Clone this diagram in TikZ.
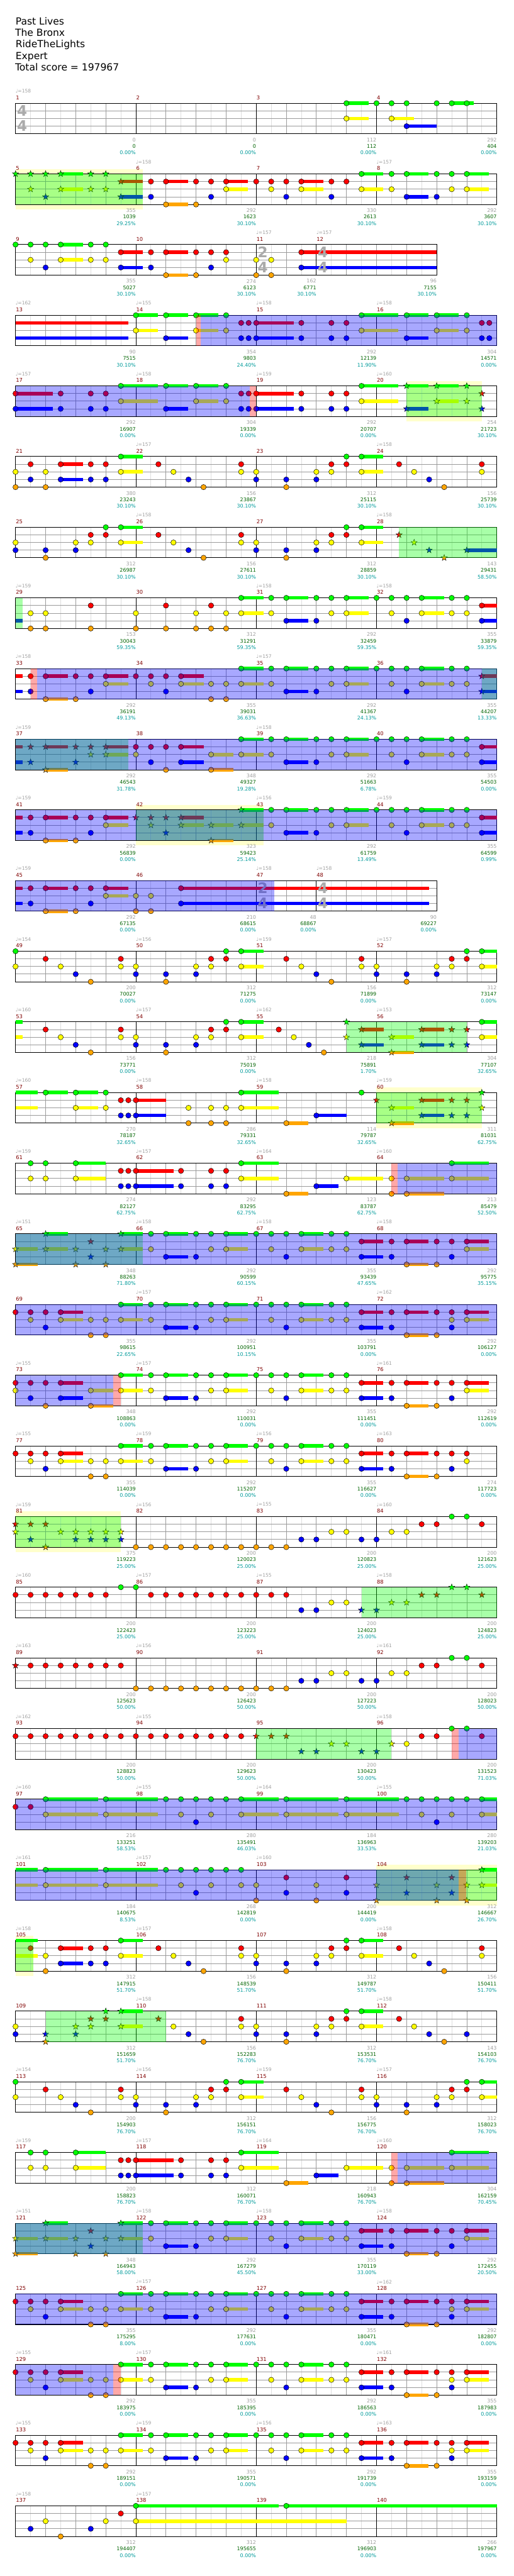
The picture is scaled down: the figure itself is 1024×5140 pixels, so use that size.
\documentclass[tikz,border=0pt]{standalone}
\usepackage{fontspec}
\setmainfont{DejaVu Sans}
\definecolor{L0}{RGB}{0,255,0}
\definecolor{L1}{RGB}{255,0,0}
\definecolor{L2}{RGB}{255,255,0}
\definecolor{L3}{RGB}{0,0,255}
\definecolor{L4}{RGB}{255,165,0}
\definecolor{spy}{RGB}{255,255,204}
\definecolor{tgrey}{RGB}{160,160,160}
\definecolor{mred}{RGB}{128,0,0}
\definecolor{sgreen}{RGB}{0,100,0}
\definecolor{steal}{RGB}{0,155,155}
\definecolor{bgr}{RGB}{155,155,155}
\definecolor{hgr}{RGB}{222,222,222}
\definecolor{tsg}{RGB}{170,170,170}
\tikzset{
 hgrid/.style={draw=hgr, line width=1pt},
 bgrid/.style={draw=bgr, line width=1pt},
 lgrid/.style={draw=bgr, line width=1.2pt},
 mline/.style={draw=black, line width=1pt},
 border/.style={draw=black, line width=1.3pt},
 note/.style={draw=black, line width=0.6pt},
 tempo/.style={anchor=west, inner sep=0pt, text=tgrey, font=\fontsize{9.5}{11}\selectfont},
 meas/.style={anchor=west, inner sep=0pt, text=mred, font=\fontsize{10.5}{12}\selectfont},
 sca/.style={anchor=east, inner sep=0pt, text=tgrey, font=\fontsize{10}{12}\selectfont},
 scb/.style={sca, text=sgreen},
 scc/.style={sca, text=steal},
 tsig/.style={inner sep=0pt, text=tsg, font=\fontsize{29}{30}\selectfont\bfseries},
 title/.style={anchor=base west, inner sep=0pt, font=\fontsize{19.5}{22}\selectfont},
 spg/.style={fill=L0, fill opacity=0.34},
 act/.style={fill=L3, fill opacity=0.34},
 lee/.style={fill=L1, fill opacity=0.34},
}
\newcommand\setT[1]{\pgfmathsetmacro\RT{206+141*(#1-1)}}
\newcommand\Ysp[2]{\fill[spy] ({31+60*#1},{\RT-10}) rectangle ({31+60*#2},{\RT+71});}
\newcommand\Gov[2]{\fill[spg] ({31+60*#1},{\RT}) rectangle ({31+60*#2},{\RT+61});}
\newcommand\Act[2]{\fill[act] ({31+60*#1},{\RT}) rectangle ({31+60*#2},{\RT+61});}
\newcommand\Lee[2]{\fill[lee] ({31+60*#1},{\RT}) rectangle ({31+60*#2},{\RT+61});}
\newcommand\Sus[1]{\foreach \xs/\xe/\nl in {#1}{\fill[fill=L\nl] ({31+60*\xs},{\RT+15.25*\nl-3.5}) rectangle ({31+60*\xe},{\RT+15.25*\nl+3.5});}}
\newcommand\Notes[1]{\foreach \xb/\nl in {#1}{\filldraw[note, fill=L\nl] ({31+60*\xb},{\RT+15.25*\nl}) circle (5.3pt);}}
\newcommand\Stars[1]{\foreach \xb/\nl in {#1}{\filldraw[note, line width=0.5pt, fill=L\nl, shift={({31+60*\xb},{\RT+15.25*\nl})}] (0,-6.5) -- (1.53,-2.1) -- (6.18,-2.01) -- (2.47,0.8) -- (3.82,5.26) -- (0,2.6) -- (-3.82,5.26) -- (-2.47,0.8) -- (-6.18,-2.01) -- (-1.53,-2.1) -- cycle;}}
\newcommand\Staff[2]{%
 \pgfmathtruncatemacro\nh{2*#1-1}%
 \foreach \gi in {1,...,\nh}{\ifodd\gi\relax \draw[hgrid] ({31+30*\gi},{\RT}) -- ++(0,61); \else \draw[bgrid] ({31+30*\gi},{\RT}) -- ++(0,61); \fi}%
 \foreach \gk in {1,2,3}{\draw[lgrid] (31,{\RT+15.25*\gk}) -- ({31+60*#1},{\RT+15.25*\gk});}%
 \foreach \gm in {#2}{\draw[mline] ({31+60*\gm},{\RT}) -- ++(0,61);}%
 \draw[border] (31,{\RT}) rectangle ({31+60*#1},{\RT+61});}
\newcommand\TS[3]{\node[tsig] at ({44+60*#1},{\RT+15}) {#2}; \node[tsig] at ({44+60*#1},{\RT+45}) {#3};}
\newcommand\Tmp[1]{\foreach \xb/\tv in {#1}{\node[tempo] at ({31+60*\xb},{\RT-24}) {♩=\tv};}}
\newcommand\Msr[1]{\foreach \xb/\mv in {#1}{\node[meas] at ({31.5+60*\xb},{\RT-11}) {\mv};}}
\newcommand\Scr[1]{\foreach \xb/\pa/\pb/\pc in {#1}{\node[sca] at ({31+60*\xb},{\RT+73}) {\pa}; \node[scb] at ({31+60*\xb},{\RT+86}) {\pb}; \node[scc] at ({31+60*\xb},{\RT+99}) {\pc\%};}}
% repeated note patterns
\newcommand\PatVerseA{%
\Sus{7.5/8.24/0, 15.5/16/0, 7.5/8.24/2, 15.5/16/2}%
\Notes{0/0, 7/0, 7.5/0, 15/0, 15.5/0, 1/1, 3.5/1, 6.5/1, 7/1, 9/1, 11.5/1, 14.5/1, 15/1, 0/2, 1.5/2, 3.5/2, 4/2, 6/2, 6.5/2, 7.5/2, 9.5/2, 11.5/2, 12/2, 14/2, 14.5/2, 15.5/2, 2/3, 4/3, 5/3, 6/3, 10/3, 12/3, 13/3, 14/3, 2.5/4, 5/4, 10.5/4, 13/4}}
\newcommand\PatBuild{%
\Sus{2/3/0, 7.5/8.74/0, 14.5/15.73/0, 4/5.25/1, 2/3/2, 7.5/8.74/2, 11/12.23/2, 13/14.24/2, 14.5/15.73/2, 4/5.25/3, 10/10.74/3, 9/9.74/4, 13/14.24/4}%
\Notes{.5/0, 1/0, 2/0, 7.5/0, 14.5/0, 3.5/1, 3.75/1, 4/1, 5.5/1, 6.5/1, 7/1, .5/2, 1/2, 2/2, 7.5/2, 11/2, 12.5/2, 13/2, 14.5/2, 3.5/3, 3.75/3, 4/3, 5.5/3, 6.5/3, 7/3, 10/3, 9/4, 12.5/4, 13/4}}
\newcommand\PatChorusG{%
\Sus{3.5/4.23/0, 5/5.73/0, 7/7.73/0, 9.5/10.23/0, 1.5/2.24/1, 11.5/12.23/1, 13/13.73/1, 15/15.73/1, 1.5/2.24/2, 3.5/4.23/2, 7/7.73/2, 9.5/10.23/2, 15/15.73/2, 5/5.73/3, 11.5/12.23/3, 13/13.73/4}%
\Notes{3.5/0, 4.5/0, 5/0, 6/0, 6.5/0, 7/0, 8/0, 8.5/0, 9/0, 9.5/0, 10.5/0, 11/0, 0/1, .5/1, 1/1, 1.5/1, 11.5/1, 12.5/1, 13/1, 14/1, 14.5/1, 15/1, .5/2, 1.5/2, 2.5/2, 3/2, 3.5/2, 4.5/2, 6.5/2, 7/2, 8.5/2, 9.5/2, 10.5/2, 11/2, 14.5/2, 15/2, 1/3, 5/3, 6/3, 9/3, 11.5/3, 12.5/3, 14.5/3, 2.5/4, 3/4, 13/4, 14/4}}
\begin{document}
\begin{tikzpicture}[x=1pt,y=-1pt]
\useasboundingbox (0,0) rectangle (1024,5140);
\fill[white] (0,0) rectangle (1024,5140);
\node[title] (t1) at (31,49) {Past Lives};
\node[title] (t2) at (30,72) {The Bronx};
\node[title] (t3) at (31,95) {RideTheLights};
\node[title] (t4) at (31,118) {Expert};
\node[title] (t5) at (30,141) {Total score = 197967};
% row 1
\setT{1}\Staff{16}{4,8,12}\TS{0}{4}{4}
\Sus{11/11.74/0, 11/11.74/2, 12.5/13.24/2, 13/14/3, 14.5/15.24/0}
\Notes{11/0, 11/2, 12/0, 12.5/0, 12.5/2, 13/0, 13/3, 14/0, 14.5/0, 15/0}
\Tmp{0/158}\Msr{0/1,4/2,8/3,12/4}\Scr{4/0/0/0.00,8/0/0/0.00,12/112/112/0.00,16/292/404/0.00}
% row 2
\setT{2}\Ysp{0}{4.24}\Staff{16}{4,8,12}
\Sus{1.5/2.24/0, 11.5/12.23/0, 13/13.73/0, 15/15.73/0, 3.5/4.23/1, 5/5.73/1, 7/7.73/1, 9.5/10.23/1, 1.5/2.24/2, 7/7.73/2, 9.5/10.23/2, 11.5/12.23/2, 15/15.73/2, 3.5/4.23/3, 13/13.73/3, 5/5.73/4}
\Stars{0/0, .5/0, 1/0, 1.5/0, 2.5/0, 3/0, 3.5/1, .5/2, 1.5/2, 2.5/2, 3/2, 1/3, 3.5/3}
\Notes{11.5/0, 12.5/0, 13/0, 14/0, 14.5/0, 15/0, 4.5/1, 5/1, 6/1, 6.5/1, 7/1, 8/1, 8.5/1, 9/1, 9.5/1, 10.5/1, 11/1, 7/2, 8.5/2, 9.5/2, 11.5/2, 12.5/2, 14.5/2, 15/2, 4.5/3, 6.5/3, 9/3, 10.5/3, 13/3, 14/3, 5/4, 6/4}
\Gov{0}{4.24}
\Tmp{4/158,12/157}\Msr{0/5,4/6,8/7,12/8}
\Scr{4/355/1039/29.25, 8/292/1623/30.10, 12/330/2613/30.10, 16/292/3607/30.10}
% row 3
\setT{3}\Staff{14}{4,8,10}
\Sus{1.5/2.24/0, 3.5/4.23/1, 5/5.73/1, 9.5/14/1, 1.5/2.24/2, 3.5/4.23/3, 9.5/14/3, 5/5.73/4}
\Notes{0/0, .5/0, 1/0, 1.5/0, 2.5/0, 3/0, 3.5/1, 4.5/1, 5/1, 6/1, 6.5/1, 7/1, 9.5/1, .5/2, 1.5/2, 2.5/2, 3/2, 7/2, 8/2, 8.5/2, 1/3, 3.5/3, 4.5/3, 6.5/3, 9.5/3, 5/4, 6/4, 8/4, 8.5/4}
\TS{8}{2}{4}\TS{10}{4}{4}
\Tmp{8/157,10/157}\Msr{0/9,4/10,8/11,10/12}
\Scr{4/355/5027/30.10, 8/274/6123/30.10, 10/162/6771/30.10, 14/96/7155/30.10}
% row 4
\setT{4}\Staff{16}{4,8,12}
\Sus{0/3.74/1, 0/3.74/3, 4/4.74/0, 5/5.73/0, 6/6.75/0, 11.5/12.73/0, 13/13.73/0, 14/14.74/0, 8/9.24/1, 4/4.74/2, 6/6.75/2, 11.5/12.73/2, 14/14.74/2, 5/5.73/3, 8/9.24/3, 13/13.73/3}
\Notes{4/0, 5/0, 6/0, 7/0, 11.5/0, 13/0, 14/0, 15/0, 7.5/1, 7.75/1, 8/1, 9.5/1, 10.5/1, 11/1, 15.5/1, 15.75/1, 4/2, 6/2, 7/2, 11.5/2, 14/2, 15/2, 5/3, 7.5/3, 7.75/3, 8/3, 9.5/3, 10.5/3, 11/3, 13/3, 15.5/3, 15.75/3}
\Act{6.15}{16}\Lee{6}{6.15}
\Tmp{0/162,4/155,8/158,12/158}\Msr{0/13,4/14,8/15,12/16}
\Scr{4/90/7515/30.10, 8/354/9803/24.40, 12/292/12139/11.90, 16/304/14571/0.00}
% row 5
\setT{5}\Ysp{13}{15.5}\Staff{16}{4,8,12}
\Sus{3.5/4.74/0, 5/5.73/0, 6/6.75/0, 11.5/12.73/0, 13/13.73/0, 14/14.74/0, 0/1.24/1, 8/9.24/1, 3.5/4.74/2, 6/6.75/2, 11.5/12.73/2, 14/14.74/2, 0/1.24/3, 5/5.73/3, 8/9.24/3, 13/13.73/3}
\Notes{3.5/0, 5/0, 6/0, 7/0, 11.5/0, 0/1, 1.5/1, 2.5/1, 3/1, 7.5/1, 7.75/1, 8/1, 9.5/1, 10.5/1, 11/1, 3.5/2, 6/2, 7/2, 11.5/2, 0/3, 1.5/3, 2.5/3, 3/3, 5/3, 7.5/3, 7.75/3, 8/3, 9.5/3, 10.5/3, 11/3}
\Stars{13/0, 14/0, 15/0, 15.5/1, 14/2, 15/2, 13/3, 15.5/3}
\Gov{13}{15.5}\Act{0}{7.78}\Lee{7.78}{8}
\Tmp{0/157,4/158,8/159,12/160}\Msr{0/17,4/18,8/19,12/20}
\Scr{4/292/16907/0.00, 8/304/19339/0.00, 12/292/20707/0.00, 16/254/21723/30.10}
% row 6
\setT{6}\Staff{16}{4,8,12}
\Sus{3.5/4.23/0, 11.5/12.23/0, 1.5/2.24/1, 3.5/4.23/2, 11.5/12.23/2, 1.5/2.24/3}
\Notes{3.5/0, 11/0, 11.5/0, .5/1, 1.5/1, 2.5/1, 3/1, 4.75/1, 7.5/1, 10.5/1, 11/1, 12.75/1, 15.5/1, 0/2, 1/2, 3.5/2, 5.25/2, 7.5/2, 8/2, 10/2, 10.5/2, 11.5/2, 13.25/2, 15.5/2, .5/3, 1.5/3, 2.5/3, 3/3, 5.75/3, 8/3, 9/3, 10/3, 13.75/3, 0/4, 1/4, 6.25/4, 9/4, 14.25/4}
\Tmp{4/157,12/158}\Msr{0/21,4/22,8/23,12/24}
\Scr{4/380/23243/30.10, 8/156/23867/30.10, 12/312/25115/30.10, 16/156/25739/30.10}
% row 7
\setT{7}\Staff{16}{4,8,12}
\Sus{3.5/4.23/0, 11.5/12.23/0, 3.5/4.23/2, 11.5/12.23/2, 15/16/3}
\Notes{3/0, 3.5/0, 11/0, 11.5/0, 2.5/1, 3/1, 4.75/1, 7.5/1, 10.5/1, 11/1, 0/2, 2/2, 2.5/2, 3.5/2, 5.25/2, 7.5/2, 8/2, 10/2, 10.5/2, 11.5/2, 0/3, 1/3, 2/3, 5.75/3, 8/3, 9/3, 10/3, 1/4, 6.25/4, 9/4}
\Stars{12.75/1, 13.25/2, 13.75/3, 15/3, 14.25/4}
\Gov{12.74}{16}
\Tmp{4/158,12/158}\Msr{0/25,4/26,8/27,12/28}
\Scr{4/312/26987/30.10, 8/156/27611/30.10, 12/312/28859/30.10, 16/143/29431/58.50}
% row 8
\setT{8}\Staff{16}{4,8,12}
\Sus{0/0.24/3, 7.5/8.24/0, 9/9.74/0, 11/11.74/0, 13.5/14.24/0, 15.5/16/1, 7.5/8.24/2, 11/11.74/2, 13.5/14.24/2, 9/9.74/3, 15.5/16/3}
\Notes{7.5/0, 8.5/0, 9/0, 10/0, 10.5/0, 11/0, 12/0, 12.5/0, 13/0, 13.5/0, 14.5/0, 15/0, 2.5/1, 5/1, 6.5/1, 15.5/1, .5/2, 1/2, 4/2, 6/2, 7/2, 7.5/2, 8.5/2, 10.5/2, 11/2, 12.5/2, 13.5/2, 14.5/2, 15/2, 9/3, 10/3, 13/3, 15.5/3, .5/4, 1/4, 2.5/4, 4/4, 5/4, 6/4, 6.5/4, 7/4}
\Gov{0}{0.24}
\Tmp{0/159,8/158,12/158}\Msr{0/29,4/30,8/31,12/32}
\Scr{4/153/30043/59.35, 8/312/31291/59.35, 12/292/32459/59.35, 16/355/33879/59.35}
% row 9
\setT{9}\Staff{16}{4,8,12}
\Sus{0/0.24/1, 0/0.24/3, 7.5/8.24/0, 9/9.74/0, 11/11.74/0, 13.5/14.24/0, 1/1.74/1, 3/3.74/1, 5.5/6.25/1, 15.5/16/1, 3/3.74/2, 5.5/6.25/2, 7.5/8.24/2, 11/11.74/2, 13.5/14.24/2, 9/9.74/3, 15.5/16/3, 1/1.74/4}
\Notes{7.5/0, 8.5/0, 9/0, 10/0, 10.5/0, 11/0, 12/0, 12.5/0, 13/0, 13.5/0, 14.5/0, 15/0, .5/1, 1/1, 2/1, 2.5/1, 3/1, 4/1, 4.5/1, 5/1, 5.5/1, 3/2, 4.5/2, 5.5/2, 6.5/2, 7/2, 7.5/2, 8.5/2, 10.5/2, 11/2, 12.5/2, 13.5/2, 14.5/2, 15/2, .5/3, 2.5/3, 5/3, 9/3, 10/3, 13/3, 1/4, 2/4, 6.5/4, 7/4}
\Stars{15.5/1, 15.5/3}
\Gov{15.5}{16}\Act{0.71}{16}\Lee{0.5}{0.71}
\Tmp{0/158,8/157}\Msr{0/33,4/34,8/35,12/36}
\Scr{4/292/36191/49.13, 8/355/39031/36.63, 12/292/41367/24.13, 16/355/44207/13.33}
% row 10
\setT{10}\Staff{16}{4,8,12}
\Sus{0/0.24/1, 0/0.24/3, 7.5/8.24/0, 9/9.74/0, 11/11.74/0, 13.5/14.24/0, 1/1.74/1, 3/3.74/1, 5.5/6.25/1, 15.5/16/1, 3/3.74/2, 6.5/7.24/2, 7.5/8.24/2, 11/11.74/2, 13.5/14.24/2, 5.5/6.25/3, 9/9.74/3, 15.5/16/3, 1/1.74/4, 6.5/7.24/4}
\Stars{.5/1, 1/1, 2/1, 2.5/1, 3/1, 2.5/2, 3/2, .5/3, 2/3, 1/4}
\Notes{7.5/0, 8.5/0, 9/0, 10/0, 10.5/0, 11/0, 12/0, 12.5/0, 13/0, 13.5/0, 14.5/0, 15/0, 4/1, 4.5/1, 5/1, 5.5/1, 15.5/1, 4/2, 6.5/2, 7.5/2, 8.5/2, 10.5/2, 11/2, 12.5/2, 13.5/2, 14.5/2, 15/2, 4.5/3, 5.5/3, 9/3, 10/3, 13/3, 15.5/3, 5/4, 6.5/4}
\Gov{0}{3.74}\Act{0}{16}
\Tmp{0/159,8/158}\Msr{0/37,4/38,8/39,12/40}
\Scr{4/292/46543/31.78, 8/348/49327/19.28, 12/292/51663/6.78, 16/355/54503/0.00}
% row 11
\setT{11}\Ysp{4}{8.24}\Staff{16}{4,8,12}
\Sus{0/0.24/1, 0/0.24/3, 7.5/8.24/0, 9/9.74/0, 11/11.74/0, 13.5/14.24/0, 1/1.74/1, 3/3.74/1, 5.5/6.25/1, 15.5/16/1, 3/3.74/2, 5.5/6.25/2, 6.5/7.24/2, 7.5/8.24/2, 11/11.74/2, 13.5/14.24/2, 9/9.74/3, 15.5/16/3, 1/1.74/4, 6.5/7.24/4}
\Stars{7.5/0, 4/1, 4.5/1, 5/1, 5.5/1, 4.5/2, 5.5/2, 6.5/2, 7.5/2, 5/3, 6.5/4}
\Notes{8.5/0, 9/0, 10/0, 10.5/0, 11/0, 12/0, 12.5/0, 13/0, 13.5/0, 14.5/0, 15/0, .5/1, 1/1, 2/1, 2.5/1, 3/1, 15.5/1, 3/2, 8.5/2, 10.5/2, 11/2, 12.5/2, 13.5/2, 14.5/2, 15/2, .5/3, 2.5/3, 9/3, 10/3, 13/3, 15.5/3, 1/4, 2/4}
\Gov{4}{8.24}\Act{0}{16}
\Tmp{0/159,8/156,12/159}\Msr{0/41,4/42,8/43,12/44}
\Scr{4/292/56839/0.00, 8/323/59423/25.14, 12/292/61759/13.49, 16/355/64599/0.99}
% row 12
\setT{12}\Staff{14}{4,8,10}
\Sus{0/0.24/1, 0/0.24/3, 1/1.74/1, 3/3.74/1, 5.5/13.74/1, 3/3.74/2, 5.5/13.74/3, 1/1.74/4}
\Notes{.5/1, 1/1, 2/1, 2.5/1, 3/1, 5.5/1, 3/2, 4/2, 4.5/2, .5/3, 2.5/3, 5.5/3, 1/4, 2/4, 4/4, 4.5/4}
\TS{8}{2}{4}\TS{10}{4}{4}
\Act{0}{8.6}
\Tmp{0/159,8/158,10/158}\Msr{0/45,4/46,8/47,10/48}
\Scr{4/292/67135/0.00, 8/210/68615/0.00, 10/48/68867/0.00, 14/90/69227/0.00}
% row 13
\setT{13}\Staff{16}{4,8,12}
\PatVerseA
\Tmp{0/154,4/156,8/159,12/157}\Msr{0/49,4/50,8/51,12/52}
\Scr{4/200/70027/0.00, 8/312/71275/0.00, 12/156/71899/0.00, 16/312/73147/0.00}
% row 14
\setT{14}\Staff{16}{4,8,12}
\Sus{0/0.24/0, 0/0.24/2, 7.5/8.24/0, 15.5/16/0, 11.5/12.24/1, 13.5/14.24/1, 7.5/8.24/2, 12.5/13.24/2, 15.5/16/2, 11.5/12.24/3, 13.5/14.24/3, 12.5/13.24/4}
\Notes{7/0, 7.5/0, 15.5/0, 1/1, 3.5/1, 6.5/1, 7/1, 8.75/1, 1.5/2, 3.5/2, 4/2, 6/2, 6.5/2, 7.5/2, 9.25/2, 15.5/2, 2/3, 4/3, 5/3, 6/3, 9.75/3, 2.5/4, 5/4, 10.25/4}
\Stars{11/0, 11.5/1, 13.5/1, 14.5/1, 15/1, 11/2, 12.5/2, 11.5/3, 13.5/3, 14.5/3, 15/3, 12.5/4}
\Gov{11}{15}
\Tmp{0/160,4/157,8/162,12/153}\Msr{0/53,4/54,8/55,12/56}
\Scr{4/156/73771/0.00, 8/312/75019/0.00, 12/218/75891/1.70, 16/304/77107/32.65}
% row 15
\setT{15}\Ysp{12}{15.5}\Staff{16}{4,8,12}
\Sus{0/0.74/0, 0/0.74/2, 1/1.74/0, 2/2.74/0, 7.5/8.74/0, 4/5/1, 13.5/14.24/1, 2/2.74/2, 7.5/8.74/2, 12.5/13.24/2, 4/5/3, 10/11/3, 13.5/14.24/3, 9/9.74/4, 12.5/13.24/4}
\Notes{1/0, 2/0, 3/0, 7.5/0, 11.5/0, 3.5/1, 3.75/1, 4/1, 2/2, 3/2, 5.75/2, 6.5/2, 7/2, 7.5/2, 3.5/3, 3.75/3, 4/3, 10/3, 5.75/4, 6.5/4, 7/4, 9/4}
\Stars{15.5/0, 12/1, 13.5/1, 14.5/1, 15/1, 12.5/2, 15.5/2, 13.5/3, 14.5/3, 15/3, 12.5/4}
\Gov{12}{15.5}
\Tmp{0/160,4/158,8/158,12/159}\Msr{0/57,4/58,8/59,12/60}
\Scr{4/270/78187/32.65, 8/286/79331/32.65, 12/114/79787/32.65, 16/311/81031/62.75}
% row 16
\setT{16}\Staff{16}{4,8,12}
\PatBuild
\Act{12.71}{16}\Lee{12.5}{12.71}
\Tmp{0/159,4/157,8/164,12/160}\Msr{0/61,4/62,8/63,12/64}
\Scr{4/274/82127/62.75, 8/292/83295/62.75, 12/123/83787/62.75, 16/213/85479/52.50}
% row 17
\setT{17}\Staff{16}{4,8,12}
\Sus{1/1.74/0, 3.5/4.23/0, 5/5.73/0, 7/7.73/0, 9.5/10.23/0, 11.5/12.23/1, 13/13.73/1, 15/15.73/1, 0/0.74/2, 1/1.74/2, 3.5/4.23/2, 7/7.73/2, 9.5/10.23/2, 15/15.73/2, 5/5.73/3, 11.5/12.23/3, 0/0.74/4, 13/13.73/4}
\Stars{1/0, 3.5/0, 2.5/1, 0/2, 1/2, 2/2, 3/2, 3.5/2, 2.5/3, 0/4, 2/4, 3/4}
\Notes{4.5/0, 5/0, 6/0, 6.5/0, 7/0, 8/0, 8.5/0, 9/0, 9.5/0, 10.5/0, 11/0, 11.5/1, 12.5/1, 13/1, 14/1, 14.5/1, 15/1, 4.5/2, 6.5/2, 7/2, 8.5/2, 9.5/2, 10.5/2, 11/2, 15/2, 5/3, 6/3, 9/3, 11.5/3, 12.5/3, 14.5/3, 13/4, 14/4}
\Gov{0}{4.24}\Act{0}{16}
\Tmp{0/151,4/158,8/158,12/158}\Msr{0/65,4/66,8/67,12/68}
\Scr{4/348/88263/71.80, 8/292/90599/60.15, 12/355/93439/47.65, 16/292/95775/35.15}
% row 18
\setT{18}\Staff{16}{4,8,12}
\PatChorusG
\Act{0}{16}
\Tmp{4/157,12/162}\Msr{0/69,4/70,8/71,12/72}
\Scr{4/355/98615/22.65, 8/292/100951/10.15, 12/355/103791/0.00, 16/292/106127/0.00}
% row 19
\setT{19}\Staff{16}{4,8,12}
\Sus{3.5/4.23/0, 5/5.73/0, 7/7.73/0, 9.5/10.23/0, 1.5/2.24/1, 11.5/12.23/1, 13/13.73/1, 15/15.73/1, 2.5/3.24/2, 3.5/4.23/2, 7/7.73/2, 9.5/10.23/2, 15/15.73/2, 1.5/2.24/3, 5/5.73/3, 11.5/12.23/3, 2.5/3.24/4, 13/13.73/4}
\Notes{3.5/0, 4.5/0, 5/0, 6/0, 6.5/0, 7/0, 8/0, 8.5/0, 9/0, 9.5/0, 10.5/0, 11/0, 0/1, .5/1, 1/1, 1.5/1, 11.5/1, 12.5/1, 13/1, 14/1, 14.5/1, 15/1, 0/2, 2.5/2, 3.5/2, 4.5/2, 6.5/2, 7/2, 8.5/2, 9.5/2, 10.5/2, 11/2, 15/2, .5/3, 1.5/3, 5/3, 6/3, 9/3, 11.5/3, 12.5/3, 14.5/3, 1/4, 2.5/4, 13/4, 14/4}
\Act{0}{3.24}\Lee{3.24}{3.5}
\Tmp{0/155,4/157,12/161}\Msr{0/73,4/74,8/75,12/76}
\Scr{4/348/108863/0.00, 8/292/110031/0.00, 12/355/111451/0.00, 16/292/112619/0.00}
% row 20
\setT{20}\Staff{16}{4,8,12}
\Sus{3.5/4.23/0, 5/5.73/0, 7/7.73/0, 9.5/10.23/0, 1.5/2.24/1, 11.5/12.23/1, 13/13.73/1, 1.5/2.24/2, 3.5/4.23/2, 7/7.73/2, 9.5/10.23/2, 5/5.73/3, 11.5/12.23/3, 13/13.73/4}
\Notes{3.5/0, 4.5/0, 5/0, 6/0, 6.5/0, 7/0, 8/0, 8.5/0, 9/0, 9.5/0, 10.5/0, 11/0, 0/1, .5/1, 1/1, 1.5/1, 11.5/1, 12.5/1, 13/1, 14/1, 14.5/1, 15/1, .5/2, 1.5/2, 2.5/2, 3/2, 3.5/2, 4.5/2, 6.5/2, 7/2, 8.5/2, 9.5/2, 10.5/2, 11/2, 15/2, 1/3, 5/3, 6/3, 9/3, 11.5/3, 12.5/3, 14.5/3, 2.5/4, 3/4, 13/4, 14/4}
\Tmp{0/155,4/159,8/156,12/163}\Msr{0/77,4/78,8/79,12/80}
\Scr{4/355/114039/0.00, 8/292/115207/0.00, 12/355/116627/0.00, 16/274/117723/0.00}
% row 21
\setT{21}\Ysp{0}{3.5}\Staff{16}{4,8,12}
\Stars{0/1, .5/1, 1/1, 0/2, 1.5/2, 2/2, 2.5/2, 3/2, 3.5/2, .5/3, 2/3, 2.5/3, 3/3, 3.5/3, 1/4}
\Notes{4/4, 4.5/4, 5/4, 5.5/4, 6/4, 6.5/4, 7/4, 7.5/4, 8/4, 8.5/4, 9/4, 9.5/3, 10/3, 11.5/3, 12/3, 10.5/2, 11/2, 12.5/2, 13/2, 13.5/1, 14/1, 15.5/1, 14.5/0, 15/0}
\Gov{0}{3.5}
\Tmp{0/159,4/156,8/155,12/160}\Msr{0/81,4/82,8/83,12/84}
\Scr{4/375/119223/25.00, 8/200/120023/25.00, 12/200/120823/25.00, 16/200/121623/25.00}
% row 22
\setT{22}\Staff{16}{4,8,12}
\Notes{0/1, .5/1, 1/1, 1.5/1, 2/1, 2.5/1, 3/1, 4.5/1, 5/1, 5.5/1, 6/1, 6.5/1, 7/1, 7.5/1, 8/1, 8.5/1, 9/1, 3.5/0, 4/0, 10.5/2, 11/2, 9.5/3, 10/3}
\Stars{13.5/1, 14/1, 15.5/1, 14.5/0, 15/0, 12.5/2, 13/2, 11.5/3, 12/3}
\Gov{11.5}{16}
\Tmp{0/160,4/157,8/155,12/158}\Msr{0/85,4/86,8/87,12/88}
\Scr{4/200/122423/25.00, 8/200/123223/25.00, 12/200/124023/25.00, 16/200/124823/25.00}
% row 23
\setT{23}\Staff{16}{4,8,12}
\Stars{0/1}
\Notes{.5/1, 1/1, 1.5/1, 2/1, 2.5/1, 3/1, 3.5/1, 4/4, 4.5/4, 5/4, 5.5/4, 6/4, 6.5/4, 7/4, 7.5/4, 8/4, 8.5/4, 9/4, 9.5/3, 10/3, 11.5/3, 12/3, 10.5/2, 11/2, 12.5/2, 13/2, 13.5/1, 14/1, 15.5/1, 14.5/0, 15/0}
\Tmp{0/163,4/156,12/161}\Msr{0/89,4/90,8/91,12/92}
\Scr{4/200/125623/50.00, 8/200/126423/50.00, 12/200/127223/50.00, 16/200/128023/50.00}
% row 24
\setT{24}\Staff{16}{4,8,12}
\Notes{0/1, .5/1, 1/1, 1.5/1, 2/1, 2.5/1, 3/1, 3.5/1, 4/1, 4.5/1, 5/1, 5.5/1, 6/1, 6.5/1, 7/1, 7.5/1, 13.5/1, 14/1, 15.5/1, 13/2, 14.5/0, 15/0}
\Stars{8/1, 8.5/1, 9/1, 9.5/3, 10/3, 11.5/3, 12/3, 10.5/2, 11/2, 12.5/2}
\Gov{8}{12.5}\Act{14.72}{16}\Lee{14.5}{14.72}
\Tmp{0/162,4/155,12/158}\Msr{0/93,4/94,8/95,12/96}
\Scr{4/200/128823/50.00, 8/200/129623/50.00, 12/200/130423/50.00, 16/200/131523/71.03}
% row 25
\setT{25}\Staff{16}{4,8,12}
\Sus{1/2.74/0, 3/4.74/0, 7.5/8.74/0, 9/10.74/0, 11/12.74/0, 15.5/16/0, 1/2.74/2, 3/4.74/2, 7.5/8.74/2, 9/10.74/2, 11/12.74/2, 15.5/16/2}
\Notes{1/0, 3/0, 5/0, 5.5/0, 6/0, 6.5/0, 7/0, 7.5/0, 9/0, 11/0, 13/0, 13.5/0, 14/0, 14.5/0, 15/0, 15.5/0, 0/1, .5/1, 1/2, 3/2, 5.5/2, 6.5/2, 7.5/2, 9/2, 11/2, 13.5/2, 14.5/2, 15.5/2, 6/3, 14/3}
\Act{0}{16}
\Tmp{0/160,4/155,8/164,12/155}\Msr{0/97,4/98,8/99,12/100}
\Scr{4/216/133251/58.53, 8/280/135491/46.03, 12/184/136963/33.53, 16/280/139203/21.03}
% row 26
\setT{26}\Ysp{12}{16}\Staff{16}{4,8,12}
\Sus{0/0.74/0, 0/0.74/2, 1/2.74/0, 3/4.74/0, 15.5/16/0, 1/2.74/2, 3/4.74/2, 15.5/16/2}
\Notes{1/0, 3/0, 5/0, 5.5/0, 6/0, 6.5/0, 7/0, 7.5/0, 9/1, 11/1, 1/2, 3/2, 5.5/2, 6.5/2, 7.5/2, 8/2, 10/2, 6/3, 9/3, 11/3, 8/4, 10/4}
\Stars{15.5/0, 13/1, 14.5/1, 12/2, 14/2, 15/2, 15.5/2, 13/3, 14.5/3, 12/4, 14/4, 15/4}
\Gov{12}{16}\Act{0}{14.72}\Lee{14.72}{14.98}
\Tmp{0/161,4/157,8/160}\Msr{0/101,4/102,8/103,12/104}
\Scr{4/184/140675/8.53, 8/268/142819/0.00, 12/200/144419/0.00, 16/312/146667/26.70}
% row 27
\setT{27}\Ysp{0}{0.6}\Staff{16}{4,8,12}
\Sus{0/0.74/0, 0/0.74/2, 3.5/4.23/0, 11.5/12.23/0, 1.5/2.24/1, 3.5/4.23/2, 11.5/12.23/2, 1.5/2.24/3}
\Notes{3.5/0, 11/0, 11.5/0, .5/1, 1.5/1, 2.5/1, 3/1, 4.75/1, 7.5/1, 10.5/1, 11/1, 12.75/1, 15.5/1, 1/2, 3.5/2, 5.25/2, 7.5/2, 8/2, 10/2, 10.5/2, 11.5/2, 13.25/2, 15.5/2, 1.5/3, 2.5/3, 3/3, 5.75/3, 8/3, 9/3, 10/3, 13.75/3, 1/4, 6.25/4, 9/4, 14.25/4}
\Gov{0}{0.6}
\Tmp{0/158,4/157,12/158}\Msr{0/105,4/106,8/107,12/108}
\Scr{4/312/147915/51.70, 8/156/148539/51.70, 12/312/149787/51.70, 16/156/150411/51.70}
% row 28
\setT{28}\Staff{16}{4,8,12}
\Sus{3.5/4.23/0, 11.5/12.23/0, 3.5/4.23/2, 11.5/12.23/2}
\Stars{3/0, 3.5/0, 2.5/1, 3/1, 4.75/1, 2/2, 2.5/2, 3.5/2, 1/3, 2/3, 1/4}
\Notes{11/0, 11.5/0, 7.5/1, 10.5/1, 11/1, 12.75/1, 0/2, 5.25/2, 7.5/2, 8/2, 10/2, 10.5/2, 11.5/2, 13.25/2, 0/3, 5.75/3, 8/3, 9/3, 10/3, 13.75/3, 15/3, 6.25/4, 9/4, 14.25/4}
\Gov{1}{5}
\Tmp{4/158,12/158}\Msr{0/109,4/110,8/111,12/112}
\Scr{4/312/151659/51.70, 8/156/152283/76.70, 12/312/153531/76.70, 16/143/154103/76.70}
% row 29
\setT{29}\Staff{16}{4,8,12}
\PatVerseA
\Tmp{0/154,4/156,8/159,12/157}\Msr{0/113,4/114,8/115,12/116}
\Scr{4/200/154903/76.70, 8/312/156151/76.70, 12/156/156775/76.70, 16/312/158023/76.70}
% row 30
\setT{30}\Staff{16}{4,8,12}
\PatBuild
\Act{12.71}{16}\Lee{12.5}{12.71}
\Tmp{0/159,4/157,8/164,12/160}\Msr{0/117,4/118,8/119,12/120}
\Scr{4/200/158823/76.70, 8/312/160071/76.70, 12/218/160943/76.70, 16/304/162159/70.45}
% row 31
\setT{31}\Staff{16}{4,8,12}
\Sus{1/1.74/0, 3.5/4.23/0, 5/5.73/0, 7/7.73/0, 9.5/10.23/0, 11.5/12.23/1, 13/13.73/1, 15/15.73/1, 0/0.74/2, 1/1.74/2, 3.5/4.23/2, 7/7.73/2, 9.5/10.23/2, 15/15.73/2, 5/5.73/3, 11.5/12.23/3, 0/0.74/4, 13/13.73/4}
\Stars{1/0, 3.5/0, 2.5/1, 0/2, 1/2, 2/2, 3/2, 3.5/2, 2.5/3, 0/4, 2/4, 3/4}
\Notes{4.5/0, 5/0, 6/0, 6.5/0, 7/0, 8/0, 8.5/0, 9/0, 9.5/0, 10.5/0, 11/0, 11.5/1, 12.5/1, 13/1, 14/1, 14.5/1, 15/1, 4.5/2, 6.5/2, 7/2, 8.5/2, 9.5/2, 10.5/2, 11/2, 15/2, 5/3, 6/3, 9/3, 11.5/3, 12.5/3, 14.5/3, 13/4, 14/4}
\Gov{0}{4.24}\Act{0}{16}
\Tmp{0/151,4/158,8/158,12/158}\Msr{0/121,4/122,8/123,12/124}
\Scr{4/348/164943/58.00, 8/292/167279/45.50, 12/355/170119/33.00, 16/292/172455/20.50}
% row 32
\setT{32}\Staff{16}{4,8,12}
\PatChorusG
\Act{0}{16}
\Tmp{4/157,12/162}\Msr{0/125,4/126,8/127,12/128}
\Scr{4/355/175295/8.00, 8/292/177631/0.00, 12/355/180471/0.00, 16/292/182807/0.00}
% row 33
\setT{33}\Staff{16}{4,8,12}
\PatChorusG
\Act{0}{3.24}\Lee{3.24}{3.5}
\Tmp{0/155,4/157,12/161}\Msr{0/129,4/130,8/131,12/132}
\Scr{4/292/183975/0.00, 8/355/185395/0.00, 12/292/186563/0.00, 16/355/187983/0.00}
% row 34
\setT{34}\Staff{16}{4,8,12}
\PatChorusG
\Tmp{0/155,4/159,8/156,12/163}\Msr{0/133,4/134,8/135,12/136}
\Scr{4/292/189151/0.00, 8/355/190571/0.00, 12/292/191739/0.00, 16/355/193159/0.00}
% row 35
\setT{35}\Staff{16}{4,8,12}
\Sus{4/8.74/0, 9/16/0, 4/11/2}
\Notes{.5/3, 1/2, 1.5/4, 2.5/3, 3/2, 3.5/1, 4/0, 9/0, 4/2}
\Tmp{0/158,4/157}\Msr{0/137,4/138,8/139,12/140}
\Scr{4/312/194407/0.00, 8/312/195655/0.00, 12/312/196903/0.00, 16/266/197967/0.00}
\end{tikzpicture}
\end{document}
